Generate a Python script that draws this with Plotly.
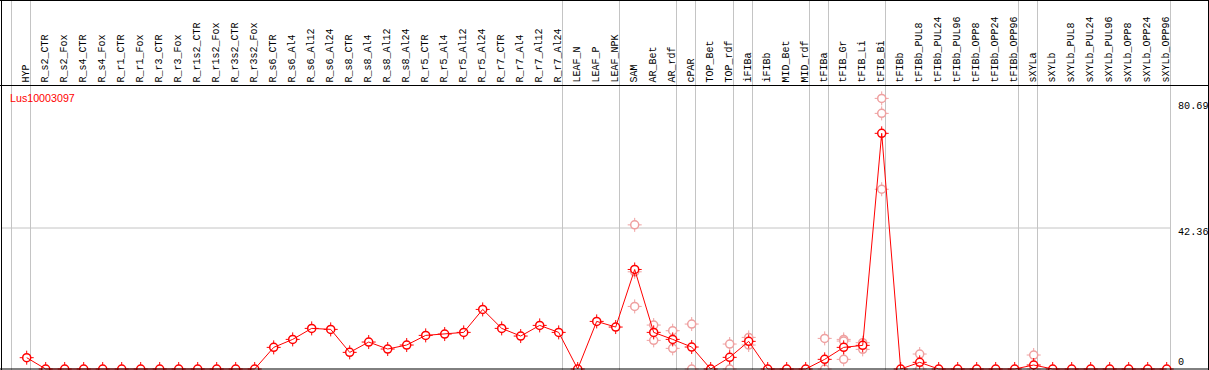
import plotly.graph_objects as go

# ---------------- data ----------------
labels = ["HYP", "R_s2_CTR", "R_s2_Fox", "R_s4_CTR", "R_s4_Fox", "R_r1_CTR", "R_r1_Fox",
          "R_r3_CTR", "R_r3_Fox", "R_r1s2_CTR", "R_r1s2_Fox", "R_r3s2_CTR", "R_r3s2_Fox",
          "R_s6_CTR", "R_s6_Al4", "R_s6_Al12", "R_s6_Al24", "R_s8_CTR", "R_s8_Al4",
          "R_s8_Al12", "R_s8_Al24", "R_r5_CTR", "R_r5_Al4", "R_r5_Al12", "R_r5_Al24",
          "R_r7_CTR", "R_r7_Al4", "R_r7_Al12", "R_r7_Al24", "LEAF_N", "LEAF_P", "LEAF_NPK",
          "SAM", "AR_Bet", "AR_rdf", "cPAR", "TOP_Bet", "TOP_rdf", "iFIBa", "iFIBb",
          "MID_Bet", "MID_rdf", "tFIBa", "tFIB_Gr", "tFIB_Li", "tFIB_Bi", "tFIBb",
          "tFIBb_PUL8", "tFIBb_PUL24", "tFIBb_PUL96", "tFIBb_OPP8", "tFIBb_OPP24",
          "tFIBb_OPP96", "sXYLa", "sXYLb", "sXYLb_PUL8", "sXYLb_PUL24", "sXYLb_PUL96",
          "sXYLb_OPP8", "sXYLb_OPP24", "sXYLb_OPP96"]

means = [3.4, 0, 0, 0, 0, 0, 0, 0, 0, 0, 0, 0, 0,
         6.5, 8.9, 12.2, 11.9, 5.0, 8.1, 6.0, 7.2, 10.1, 10.5, 11.0, 17.9,
         12.2, 9.9, 13.1, 11.0, 0, 14.3, 12.6,
         29.9, 11.0, 8.9, 6.6, 0, 3.5, 8.3, 0,
         0, 0, 2.9, 6.5, 7.1, 70.8, 0,
         2.0, 0, 0, 0, 0, 0, 1.2, 0, 0, 0, 0, 0, 0, 0]

rep_labels = ["SAM", "SAM", "SAM", "AR_Bet", "AR_Bet", "AR_rdf", "AR_rdf", "cPAR", "cPAR",
              "TOP_rdf", "TOP_rdf", "iFIBa", "iFIBa", "tFIBa", "tFIBa",
              "tFIB_Gr", "tFIB_Gr", "tFIB_Gr", "tFIB_Li", "tFIB_Li",
              "tFIB_Bi", "tFIB_Bi", "tFIB_Bi", "tFIBb_PUL8", "tFIBb_PUL8", "sXYLa", "sXYLa"]
rep_values = [43.3, 29.2, 18.8, 13.2, 8.6, 11.5, 6.2, 13.5, 0,
              7.5, 0, 9.5, 7.2, 9.2, 0,
              8.9, 8.4, 2.9, 7.9, 5.9,
              81.3, 76.8, 54.0, 4.5, 0, 4.2, 0]

group_ends = ["", "HYP", "R_r7_Al24", "LEAF_NPK", "AR_rdf", "cPAR", "TOP_rdf", "iFIBa",
              "MID_rdf", "tFIBa", "tFIB_Bi", "tFIBb_OPP96", "sXYLa", "sXYLb_OPP96"]

y_ticks = [80.69, 42.36, 0]
gene = "Lus10003097"

# ---------------- figure ----------------
W, H = 1209, 370
xs = list(range(len(labels)))
idx = {l: i for i, l in enumerate(labels)}
rep_x = [idx[l] for l in rep_labels]

RED = "#ff0000"
PINK = "#efa0a0"

fig = go.Figure()


def add_points(x, y, col):
    fig.add_trace(go.Scatter(x=x, y=y, mode="markers", hoverinfo="skip",
                             marker=dict(symbol="cross-thin-open", size=10, color=col,
                                         line=dict(color=col, width=1))))
    fig.add_trace(go.Scatter(x=x, y=y, mode="markers",
                             marker=dict(symbol="circle", size=8, color="white",
                                         line=dict(color=col, width=1.5))))


add_points(rep_x, rep_values, PINK)
add_points(xs, means, RED)
fig.add_trace(go.Scatter(x=xs, y=means, mode="lines", hoverinfo="skip",
                         line=dict(color=RED, width=1)))


def px_x(p):
    return p / W


def px_y(p):
    return (H - p) / H


shapes = []
# group separators
for g in group_ends:
    i = idx[g] if g else -1
    shapes.append(dict(type="line", xref="x", yref="paper", x0=i + 0.2, x1=i + 0.2,
                       y0=0, y1=1, line=dict(color="#c4c4c4", width=1), layer="below"))
# horizontal grid line (middle tick)
shapes.append(dict(type="line", xref="paper", yref="y", x0=px_x(1), x1=px_x(1171),
                   y0=y_ticks[1], y1=y_ticks[1], line=dict(color="#c4c4c4", width=1),
                   layer="below"))
# frame
blk = dict(color="black", width=1)
shapes += [
    dict(type="line", xref="paper", yref="paper", x0=px_x(1.5), x1=px_x(1.5), y0=0, y1=1, line=blk),
    dict(type="line", xref="paper", yref="paper", x0=px_x(1208.5), x1=px_x(1208.5), y0=0, y1=1, line=blk),
    dict(type="line", xref="paper", yref="paper", x0=0, x1=1, y0=px_y(0.5), y1=px_y(0.5), line=blk),
    dict(type="line", xref="paper", yref="paper", x0=0, x1=1, y0=px_y(85.5), y1=px_y(85.5), line=blk),
    dict(type="line", xref="paper", yref="y", x0=0, x1=1, y0=0, y1=0, line=blk),
]

annotations = []
for i, lab in enumerate(labels):
    annotations.append(dict(x=i, xref="x", y=px_y(84), yref="paper", text=lab,
                            textangle=-90, showarrow=False, xanchor="center",
                            yanchor="bottom", xshift=-1.2, borderpad=0,
                            font=dict(family="Liberation Mono", size=10, color="black")))
annotations.append(dict(x=px_x(9), xref="paper", y=px_y(98), yref="paper", text=gene,
                        showarrow=False, xanchor="left", yanchor="middle", borderpad=0,
                        font=dict(family="Liberation Sans", size=10.7, color=RED)))
shifts = [-6, -4, 7]
for v, s in zip(y_ticks, shifts):
    annotations.append(dict(x=px_x(1177), xref="paper", y=v, yref="y", text=f"{v:g}",
                            showarrow=False, xanchor="left", yanchor="middle", yshift=s,
                            borderpad=0,
                            font=dict(family="Liberation Mono", size=10.2, color="black")))

zero_px = 369
scale = (zero_px - 228) / y_ticks[1]
fig.update_layout(
    width=W, height=H, margin=dict(l=0, r=0, t=0, b=0, pad=0),
    paper_bgcolor="white", plot_bgcolor="white", showlegend=False,
    xaxis=dict(range=[-26.7 / 19, (W - 26.7) / 19], visible=False, domain=[0, 1]),
    yaxis=dict(range=[-(H - zero_px) / scale, zero_px / scale], visible=False, domain=[0, 1]),
    shapes=shapes, annotations=annotations,
)

fig.write_html("out.html", config={"displayModeBar": False},
               post_script="document.body.style.margin='0';document.body.style.overflow='hidden';")
